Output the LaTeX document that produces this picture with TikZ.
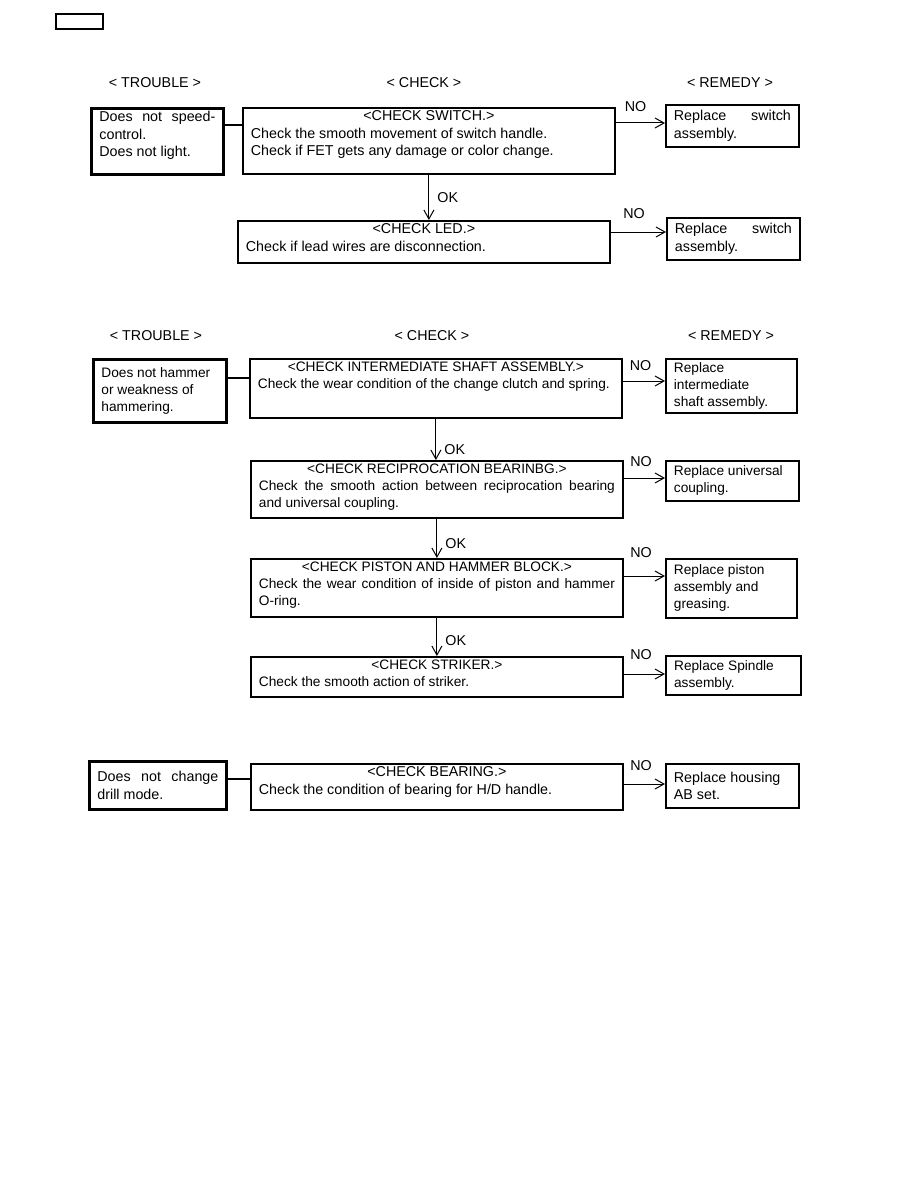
\documentclass[tikz,border=0pt]{standalone}
\usepackage{fontspec}
\setmainfont{Liberation Sans}
\usetikzlibrary{positioning,arrows.meta}
\newcommand{\fa}{\fontsize{14.3}{17.5}\selectfont}
\newcommand{\fb}{\fontsize{13.7}{17}\selectfont}
\newcommand{\bx}[4][t]{\parbox[t][#3][#1]{#2}{#4}}

\begin{document}
\begin{tikzpicture}[x=1pt, y=-1pt,
  box/.style={draw, anchor=north west, inner xsep=8pt, inner ysep=3pt, line width=1.8pt, font=\fa},
  trbl/.style={box, line width=2.8pt},
  chk/.style={box},
  rem/.style={box},
  sb/.style={font=\fb},
  hdr/.style={font=\fa},
  lbl/.style={font=\fa, inner sep=0pt},
  arr/.style={-{Straight Barb[length=9pt,width=10pt]}, line width=1pt},
  lnk/.style={line width=1.2pt}
]
\useasboundingbox (0,0) rectangle (918,1188);

\node[draw, line width=1.6pt, anchor=north west, minimum width=47pt, minimum height=15pt, inner sep=0pt] (tag) at (55,13) {};

% first chart
\node[hdr] (tro1) at (155,83) {< TROUBLE >};
\node[hdr] (chk1) at (424,83) {< CHECK >};
\node[hdr] (rem1) at (730,83) {< REMEDY >};

\node[trbl] (tr1) at (90,107) {\bx{116pt}{60pt}{Does\hfill not\hfill speed-\\control.\\Does not light.}};
\node[chk] (ck1) at (242,107) {\bx{356pt}{60pt}{\centerline{<CHECK SWITCH.>}Check the smooth movement of switch handle.\\Check if FET gets any damage or color change.}};
\node[rem] (rm1) at (665,104) {\bx[c]{117pt}{36pt}{Replace\hfill switch\\assembly.}};
\node[chk] (ck2) at (237,220) {\bx{356pt}{36pt}{\centerline{<CHECK LED.>}Check if lead wires are disconnection.}};
\node[rem] (rm2) at (666,217) {\bx[c]{117pt}{36pt}{Replace\hfill switch\\assembly.}};

\coordinate (j1) at ([yshift=-18pt]tr1.north east);
\draw[lnk] (j1) -- (j1 -| ck1.west);
\coordinate (n1) at ([yshift=-16pt]ck1.north east);
\draw[arr] (n1) -- (n1 -| rm1.west) node[lbl, pos=0.4, above=11pt] (no1) {NO};
\coordinate (n2) at ([yshift=-12pt]ck2.north east);
\draw[arr] (n2) -- (n2 -| rm2.west) node[lbl, pos=0.42, above=13pt] (no2) {NO};
\draw[arr] (ck1.south) -- (ck1.south |- ck2.north) node[lbl, pos=0.5, right=8pt] (ok1) {OK};

% second chart
\node[hdr] (tro2) at (156,336) {< TROUBLE >};
\node[hdr] (chk2) at (432,336) {< CHECK >};
\node[hdr] (rem2) at (731,336) {< REMEDY >};

\node[trbl, sb] (tr2) at (92,358) {\bx[c]{117pt}{57pt}{Does not hammer\\or weakness of\\hammering.}};
\node[chk, sb] (ck3) at (249,358) {\bx{356pt}{53pt}{\centerline{<CHECK INTERMEDIATE SHAFT ASSEMBLY.>}Check the wear condition of the change clutch and spring.}};
\node[rem, sb] (rm3) at (665,358) {\bx[c]{115pt}{48pt}{Replace\\intermediate\\shaft assembly.}};
\node[chk, sb] (ck4) at (250,460) {\bx{356pt}{51pt}{\centerline{<CHECK RECIPROCATION BEARINBG.>}Check\hfill the\hfill smooth\hfill action\hfill between\hfill reciprocation\hfill bearing\\and universal coupling.}};
\node[rem, sb] (rm4) at (665,460) {\bx[c]{117pt}{34pt}{Replace universal\\coupling.}};
\node[chk, sb] (ck5) at (250,558) {\bx{356pt}{52pt}{\centerline{<CHECK PISTON AND HAMMER BLOCK.>}Check\hfill the\hfill wear\hfill condition\hfill of\hfill inside\hfill of\hfill piston\hfill and\hfill hammer\\O-ring.}};
\node[rem, sb] (rm5) at (665,558) {\bx[c]{115pt}{53pt}{Replace piston\\assembly and\\greasing.}};
\node[chk, sb] (ck6) at (250,656) {\bx{356pt}{34pt}{\centerline{<CHECK STRIKER.>}Check the smooth action of striker.}};
\node[rem, sb, line width=2.2pt] (rm6) at (665,655) {\bx[c]{119pt}{33pt}{Replace Spindle\\assembly.}};

\coordinate (j2) at ([yshift=-20pt]tr2.north east);
\draw[lnk] (j2) -- (j2 -| ck3.west);
\coordinate (n3) at ([yshift=-23pt]ck3.north east);
\draw[arr] (n3) -- (n3 -| rm3.west) node[lbl, pos=0.42, above=10pt] (no3) {NO};
\coordinate (n4) at ([yshift=-18pt]ck4.north east);
\draw[arr] (n4) -- (n4 -| rm4.west) node[lbl, pos=0.42, above=11pt] (no4) {NO};
\coordinate (n5) at ([yshift=-18pt]ck5.north east);
\draw[arr] (n5) -- (n5 -| rm5.west) node[lbl, pos=0.42, above=18pt] (no5) {NO};
\coordinate (n6) at ([yshift=-18pt]ck6.north east);
\draw[arr] (n6) -- (n6 -| rm6.west) node[lbl, pos=0.42, above=14pt] (no6) {NO};
\draw[arr] (ck3.south) -- (ck3.south |- ck4.north) node[lbl, pos=0.75, right=8pt] (ok2) {OK};
\draw[arr] (ck4.south) -- (ck4.south |- ck5.north) node[lbl, pos=0.62, right=8pt] (ok3) {OK};
\draw[arr] (ck5.south) -- (ck5.south |- ck6.north) node[lbl, pos=0.6, right=8pt] (ok4) {OK};

% third chart
\node[trbl] (tr3) at (88,760) {\bx[c]{121pt}{42pt}{Does\hfill not\hfill change\\drill mode.}};
\node[chk] (ck7) at (250,763) {\bx{356pt}{40pt}{\centerline{<CHECK BEARING.>}Check the condition of bearing for H/D handle.}};
\node[rem] (rm7) at (665,763) {\bx[c]{117pt}{38pt}{Replace housing\\AB set.}};

\coordinate (j3) at ([yshift=-19pt]tr3.north east);
\draw[lnk] (j3) -- (j3 -| ck7.west);
\coordinate (n7) at ([yshift=-21pt]ck7.north east);
\draw[arr] (n7) -- (n7 -| rm7.west) node[lbl, pos=0.42, above=13pt] (no7) {NO};
\end{tikzpicture}
\end{document}
